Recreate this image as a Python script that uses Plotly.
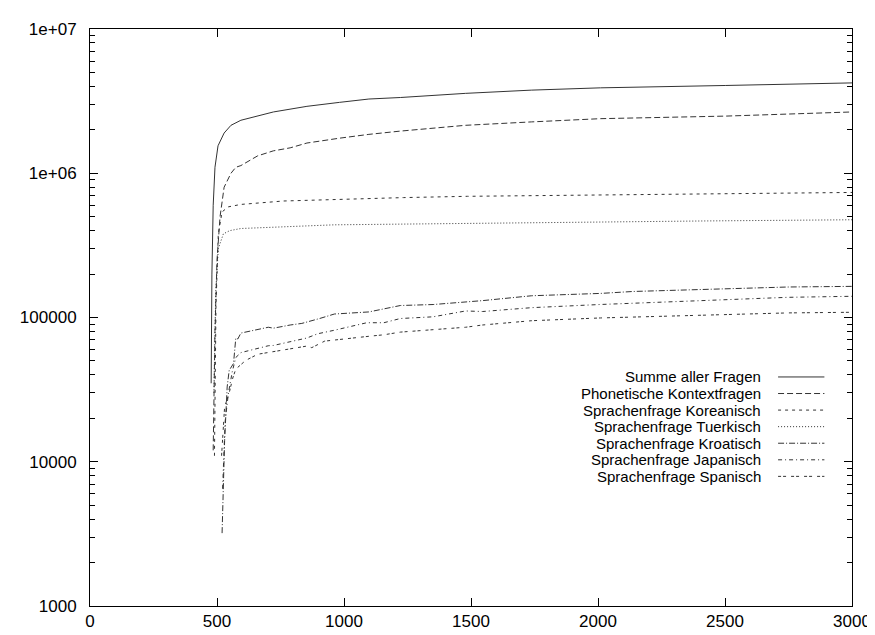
import plotly.graph_objects as go

# ---- data ----
x_summe = [477, 480, 485, 492, 504, 528, 555, 594, 722, 854, 982, 1098, 1222, 1479, 1739, 2010, 2503, 3000]
y_summe = [35000, 200000, 600000, 1.1e6, 1.55e6, 1.9e6, 2.15e6, 2.33e6, 2.66e6, 2.91e6, 3.10e6, 3.27e6, 3.35e6, 3.58e6, 3.77e6, 3.91e6, 4.06e6, 4.23e6]

x_phon = [485, 492, 500, 512, 528, 555, 574, 594, 660, 722, 788, 854, 982, 1098, 1222, 1479, 1739, 2010, 2503, 3000]
y_phon = [12000, 80000, 250000, 500000, 800000, 1.0e6, 1.10e6, 1.13e6, 1.32e6, 1.43e6, 1.50e6, 1.62e6, 1.75e6, 1.86e6, 1.96e6, 2.15e6, 2.27e6, 2.39e6, 2.49e6, 2.66e6]

x_kor = [490, 496, 505, 520, 545, 574, 594, 761, 962, 1234, 1486, 2010, 2503, 3000]
y_kor = [11000, 120000, 380000, 540000, 585000, 5.98e5, 6.08e5, 6.42e5, 6.60e5, 6.78e5, 6.92e5, 7.07e5, 7.25e5, 7.36e5]

x_tuer = [488, 495, 505, 525, 550, 574, 594, 962, 1428, 2010, 2418, 3000]
y_tuer = [30000, 150000, 300000, 380000, 400000, 4.08e5, 4.14e5, 4.39e5, 4.49e5, 4.60e5, 4.67e5, 4.76e5]

x_kro = [520, 530, 540, 548, 565, 574, 582, 594, 702, 722, 788, 834, 904, 962, 1098, 1157, 1222, 1351, 1479, 1545, 1739, 2010, 2138, 2488, 2748, 3000]
y_kro = [3200, 14000, 33000, 43000, 48000, 72000, 71000, 78000, 85600, 84300, 88700, 91000, 98400, 105700, 109300, 115100, 121100, 123000, 127600, 130900, 141500, 146900, 151500, 157000, 162700, 164400]

x_jap = [522, 532, 545, 560, 574, 594, 702, 722, 854, 896, 962, 1090, 1157, 1222, 1351, 1479, 1545, 1739, 2010, 2232, 2488, 2748, 3000]
y_jap = [6500, 19000, 30000, 42000, 52800, 57100, 63700, 64000, 72100, 77100, 81600, 92000, 92000, 98400, 101100, 111000, 110000, 117000, 123100, 127600, 133000, 138000, 140300]

x_spa = [518, 530, 548, 562, 574, 613, 660, 702, 854, 873, 924, 1098, 1157, 1222, 1351, 1479, 1545, 1739, 2010, 2232, 2488, 2748, 3000]
y_spa = [11000, 24000, 30000, 38000, 43900, 50400, 55600, 57100, 63400, 61800, 68600, 74100, 75900, 79200, 82100, 85600, 88700, 95000, 99300, 102000, 104800, 107600, 108700]

names = ["Summe aller Fragen", "Phonetische Kontextfragen", "Sprachenfrage Koreanisch",
         "Sprachenfrage Tuerkisch", "Sprachenfrage Kroatisch", "Sprachenfrage Japanisch",
         "Sprachenfrage Spanisch"]

x_ticks = [0, 500, 1000, 1500, 2000, 2500, 3000]
y_ticks = [1000, 10000, 100000, 1000000, 10000000]
y_tick_text = ["1000", "10000", "100000", "1e+06", "1e+07"]

# ---- styles ----
dashes = ["solid", "6px,3px", "3px,4px", "1px,2px", "6px,2px,1px,2px", "4px,3px,1px,3px", "3px,2px,3px,5px"]
series = [(x_summe, y_summe), (x_phon, y_phon), (x_kor, y_kor), (x_tuer, y_tuer),
          (x_kro, y_kro), (x_jap, y_jap), (x_spa, y_spa)]

FONT = "Liberation Sans, Arial, Helvetica, sans-serif"
LINE = "#333333"
L, R, T, B = 82, 20, 18, 25
W, H = 875, 635

fig = go.Figure()
for (xs, ys), name, d in zip(series, names, dashes):
    fig.add_trace(go.Scatter(x=xs, y=ys, mode="lines", name=name, showlegend=False,
                             line=dict(color=LINE, width=1, dash=d)))

# gnuplot-style legend: text right-aligned, line sample on the right
pw = W - L - R
ph = H - T - B
row0 = 375
step = 17
for i, (name, d) in enumerate(zip(names, dashes)):
    ypx = row0 + i * step
    yp = (H - B - ypx) / ph
    fig.add_annotation(x=(764 - L) / pw, y=yp, xref="paper", yref="paper", text=name,
                       showarrow=False, xanchor="right", yanchor="middle", borderpad=0,
                       font=dict(family=FONT, size=15, color="black"))
    fig.add_shape(type="line", xref="paper", yref="paper",
                  x0=(780 - L) / pw, x1=(827 - L) / pw, y0=yp, y1=yp,
                  line=dict(color=LINE, width=1, dash=d))

fig.update_xaxes(range=[0, 3000], tickvals=x_ticks, ticktext=[str(v) for v in x_ticks],
                 ticks="inside", ticklen=8, tickwidth=1, tickcolor="black",
                 showline=True, linecolor="black", linewidth=1, mirror="allticks",
                 showgrid=False, zeroline=False,
                 tickfont=dict(family=FONT, size=17, color="black"))
fig.update_yaxes(type="log", range=[3, 7], tickvals=y_ticks, ticktext=y_tick_text,
                 ticks="inside", ticklen=8, tickwidth=1, tickcolor="black",
                 showline=True, linecolor="black", linewidth=1, mirror="allticks",
                 showgrid=False, zeroline=False, ticklabelstandoff=9,
                 minor=dict(ticks="inside", ticklen=5, tickcolor="black", dtick="D1", showgrid=False),
                 tickfont=dict(family=FONT, size=17, color="black"))

fig.update_layout(width=W, height=H, margin=dict(l=L, r=R, t=T, b=B),
                  plot_bgcolor="white", paper_bgcolor="white", showlegend=False)

fig.write_html("out.html")
